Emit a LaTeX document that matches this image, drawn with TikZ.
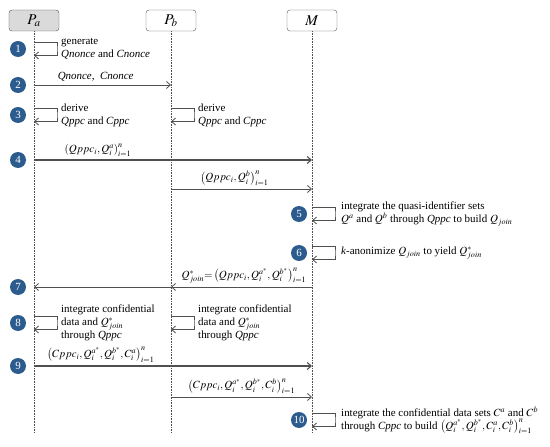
\documentclass[tikz,border=0pt]{standalone}
\usepackage{mathptmx}
\usepackage[no-math]{fontspec}
\setmainfont{Liberation Serif}
\usetikzlibrary{calc,arrows.meta,positioning}
\definecolor{stepblue}{HTML}{2C5B8E}
\definecolor{headgray}{HTML}{DADADA}
\definecolor{linegray}{HTML}{505050}

\begin{document}
\begin{tikzpicture}[x=1bp,y=-1bp,
  every node/.style={font=\fontsize{11}{13}\selectfont,text=black},
  party/.style={draw=linegray,rounded corners=3bp,minimum width=50bp,minimum height=21bp,inner sep=0pt,font=\fontsize{15}{15}\selectfont},
  stepnum/.style={circle,fill=stepblue,text=white,minimum size=16bp,inner sep=0pt,font=\fontsize{11}{11}\selectfont},
  life/.style={densely dotted,draw=linegray,line width=0.6bp},
  msg/.style={-{Straight Barb[length=4bp,width=7bp]},draw=linegray,line width=0.8bp},
  note/.style={align=left,inner sep=0pt}]
\useasboundingbox (0,0) rectangle (550,447);
% parties and lifelines
\node[party,fill=headgray] (pa) at (34,20.5) {$P_a$};
\node[party] (pb) at (171,20.5) {$P_b$};
\node[party] (m) at (312,20.5) {$M$};
\draw[life] (pa.south) -- ++(0,401);
\draw[life] (pb.south) -- ++(0,401);
\draw[life] (m.south) -- ++(0,401);
% step numbers
\node[stepnum] (s1) at (18,49) {1};
\node[stepnum] (s2) at (18,85) {2};
\node[stepnum] (s3) at (18,115) {3};
\node[stepnum] (s4) at (18,160) {4};
\node[stepnum] (s5) at (299,214) {5};
\node[stepnum] (s6) at (299,253) {6};
\node[stepnum] (s7) at (18,287) {7};
\node[stepnum] (s8) at (18,323) {8};
\node[stepnum] (s9) at (18,366) {9};
\node[stepnum] (s10) at (299,420) {10};
% 1
\draw[msg] ($(s1 -| pa)+(0,-6.5)$) -- ++(23,0) -- ++(0,6.5) coordinate (l1) -- ++(0,6.5) -- ++(-23,0);
\node[note,right=4bp of l1] {generate\\\textit{Qnonce} and \textit{Cnonce}};
% 2
\draw[msg] (s2 -| pa) -- node[above,pos=0.45] {\textit{Qnonce},\ \ \textit{Cnonce}} (s2 -| pb);
% 3
\draw[msg] ($(s3 -| pa)+(0,-6.5)$) -- ++(23,0) -- ++(0,6.5) coordinate (l3a) -- ++(0,6.5) -- ++(-23,0);
\node[note,right=4bp of l3a] {derive\\\textit{Qppc} and \textit{Cppc}};
\draw[msg] ($(s3 -| pb)+(0,-6.5)$) -- ++(23,0) -- ++(0,6.5) coordinate (l3b) -- ++(0,6.5) -- ++(-23,0);
\node[note,right=4bp of l3b] {derive\\\textit{Qppc} and \textit{Cppc}};
% 4
\draw[msg,line width=1.1bp] (s4 -| pa) -- node[above,pos=0.23] {$\left(Qppc_i,Q_i^a\right)_{i=1}^n$} (s4 -| m);
\path (s4 -| pb) ++(0,29) coordinate (b4);
\draw[msg] (b4) -- node[above,pos=0.45] {$\left(Qppc_i,Q_i^b\right)_{i=1}^n$} (b4 -| m);
% 5
\draw[msg] ($(s5 -| m)+(0,-6.5)$) -- ++(23,0) -- ++(0,6.5) coordinate (l5) -- ++(0,6.5) -- ++(-23,0);
\node[note,right=6bp of l5] {integrate the quasi-identifier sets\\$Q^a$ and $Q^b$ through \textit{Qppc} to build $Q_{join}$};
% 6
\draw[msg] ($(s6 -| m)+(0,-6.5)$) -- ++(23,0) -- ++(0,6.5) coordinate (l6) -- ++(0,6.5) -- ++(-23,0);
\node[note,right=6bp of l6] {\textit{k}-anonimize $Q_{join}$ to yield $Q^*_{join}$};
% 7
\draw[msg] (s7 -| m) -- (s7 -| pb);
\draw[msg] (s7 -| m) -- node[above,pos=0.245] {$Q^*_{join}{=}\left(Qppc_i,Q_i^{a^*},Q_i^{b^*}\right)_{i=1}^n$} (s7 -| pa);
% 8
\draw[msg] ($(s8 -| pa)+(0,-6.5)$) -- ++(23,0) -- ++(0,6.5) coordinate (l8a) -- ++(0,6.5) -- ++(-23,0);
\node[note,right=4bp of l8a] {integrate confidential\\data and\ $Q^*_{join}$\\through \textit{Qppc}};
\draw[msg] ($(s8 -| pb)+(0,-6.5)$) -- ++(23,0) -- ++(0,6.5) coordinate (l8b) -- ++(0,6.5) -- ++(-23,0);
\node[note,right=4bp of l8b] {integrate confidential\\data and\ $Q^*_{join}$\\through \textit{Qppc}};
% 9
\draw[msg,line width=1.1bp] (s9 -| pa) -- node[above,pos=0.24] {$\left(Cppc_i,Q_i^{a^*},Q_i^{b^*},C_i^a\right)_{i=1}^n$} (s9 -| m);
\path (s9 -| pb) ++(0,31) coordinate (b9);
\draw[msg] (b9) -- node[above,pos=0.5] {$\left(Cppc_i,Q_i^{a^*},Q_i^{b^*},C_i^b\right)_{i=1}^n$} (b9 -| m);
% 10
\draw[msg] ($(s10 -| m)+(0,-6.5)$) -- ++(23,0) -- ++(0,6.5) coordinate (l10) -- ++(0,6.5) -- ++(-23,0);
\node[note,right=6bp of l10] {integrate the confidential data sets $C^a$ and $C^b$\\through \textit{Cppc} to build $\left(Q_i^{a^*},Q_i^{b^*},C_i^a,C_i^b\right)_{i=1}^n$};
\end{tikzpicture}
\end{document}
